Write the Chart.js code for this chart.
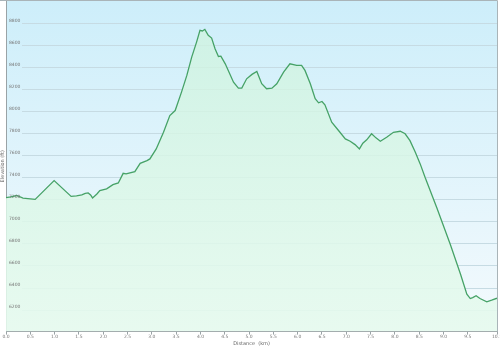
<!DOCTYPE html>
<html>
<head>
<meta charset="utf-8">
<script src="https://cdn.jsdelivr.net/npm/chart.js@4"></script>
<style>
  html, body { margin: 0; padding: 0; background: #fff; }
  #wrap { width: 500px; height: 349px; }
</style>
</head>
<body>
<div id="wrap"><canvas id="profile"></canvas></div>
<script>
const distanceKm = [0.00, 0.10, 0.22, 0.35, 0.60, 0.99, 1.34, 1.45, 1.56, 1.63, 1.69, 1.74, 1.78, 1.87, 1.93,
  2.07, 2.20, 2.31, 2.41, 2.47, 2.65, 2.76, 2.90, 2.96, 3.09, 3.24, 3.37, 3.48, 3.61, 3.72, 3.82, 3.92, 3.99,
  4.04, 4.09, 4.16, 4.23, 4.30, 4.37, 4.42, 4.51, 4.68, 4.78, 4.85, 4.95, 5.06, 5.16, 5.26, 5.36, 5.47, 5.57,
  5.71, 5.84, 5.98, 6.08, 6.15, 6.26, 6.36, 6.43, 6.50, 6.56, 6.70, 6.84, 6.98, 7.08, 7.18, 7.27, 7.34, 7.42,
  7.52, 7.61, 7.70, 7.83, 7.97, 8.11, 8.21, 8.31, 8.42, 8.52, 8.62, 8.86, 9.14, 9.35, 9.48, 9.55, 9.60, 9.67,
  9.75, 9.89, 9.99, 10.10];
const elevationFt = [7215, 7222, 7235, 7212, 7200, 7370, 7227, 7232, 7240, 7255, 7258, 7240, 7213, 7249, 7279,
  7295, 7334, 7349, 7436, 7431, 7452, 7527, 7551, 7567, 7658, 7809, 7961, 8006, 8173, 8325, 8491, 8627, 8734,
  8728, 8743, 8688, 8664, 8567, 8497, 8500, 8430, 8263, 8209, 8209, 8294, 8334, 8361, 8249, 8204, 8209, 8249,
  8355, 8430, 8415, 8415, 8370, 8249, 8113, 8076, 8088, 8058, 7900, 7825, 7749, 7727, 7697, 7658, 7709, 7740,
  7795, 7758, 7727, 7764, 7809, 7818, 7795, 7733, 7627, 7522, 7400, 7127, 6790, 6520, 6340, 6300, 6309, 6325,
  6300, 6270, 6285, 6303];
const xTicks = [0, 0.5, 1, 1.5, 2, 2.5, 3, 3.5, 4, 4.5, 5, 5.5, 6, 6.5, 7, 7.5, 8, 8.5, 9, 9.5, 10.1];
const yTicks = [6200, 6400, 6600, 6800, 7000, 7200, 7400, 7600, 7800, 8000, 8200, 8400, 8600, 8800];

const points = distanceKm.map((d, i) => ({ x: d, y: elevationFt[i] }));
const tickFont = { family: "DejaVu Sans", size: 4.5 };

// panel background + gridlines that start right of the tick labels
const panel = {
  id: "panel",
  beforeDraw(chart) {
    const { ctx, chartArea: a, scales } = chart;
    ctx.save();
    const bg = ctx.createLinearGradient(0, a.top, 0, a.bottom);
    bg.addColorStop(0, "#cdeefa");
    bg.addColorStop(1, "#f4fafd");
    ctx.fillStyle = bg;
    ctx.fillRect(a.left, a.top, a.right - a.left, a.bottom - a.top);
    ctx.strokeStyle = "#c6dbe3";
    ctx.lineWidth = 1;
    for (const t of yTicks) {
      const y = Math.round(scales.y.getPixelForValue(t)) + 0.5;
      ctx.beginPath();
      ctx.moveTo(a.left + 16, y);
      ctx.lineTo(a.right, y);
      ctx.stroke();
    }
    ctx.restore();
  },
  afterDraw(chart) {
    const { ctx, chartArea: a } = chart;
    ctx.save();
    ctx.strokeStyle = "#a9b4b8";
    ctx.lineWidth = 1;
    ctx.beginPath();
    ctx.moveTo(0, 0.5);
    ctx.lineTo(a.right + 0.5, 0.5);
    ctx.lineTo(a.right + 0.5, a.bottom);
    ctx.stroke();
    ctx.restore();
  }
};

new Chart(document.getElementById("profile"), {
  type: "line",
  data: {
    datasets: [{
      data: points,
      borderColor: "#46a267",
      borderWidth: 1.3,
      pointRadius: 0,
      tension: 0,
      fill: "origin",
      backgroundColor: (c) => {
        const a = c.chart.chartArea;
        if (!a) return "rgba(200,240,215,0.6)";
        const g = c.chart.ctx.createLinearGradient(0, a.top, 0, a.bottom);
        g.addColorStop(0, "rgba(205,243,222,0.75)");
        g.addColorStop(1, "rgba(230,250,238,0.9)");
        return g;
      }
    }]
  },
  options: {
    responsive: true,
    maintainAspectRatio: false,
    animation: false,
    layout: { padding: { top: 1, right: 3, left: 0, bottom: 0 } },
    plugins: { legend: { display: false }, tooltip: { enabled: false } },
    scales: {
      x: {
        type: "linear",
        min: 0,
        max: 10.1,
        afterBuildTicks: (s) => { s.ticks = xTicks.map((v) => ({ value: v })); },
        afterFit: (s) => { s.paddingLeft = 0; s.paddingRight = 0; },
        ticks: {
          font: tickFont,
          color: "#777",
          padding: 0,
          maxRotation: 0,
          autoSkip: false,
          callback: (v) => Number(v).toFixed(1)
        },
        grid: { drawOnChartArea: false, drawTicks: true, tickLength: 3, color: "#9aa3a6" },
        border: { display: true, color: "#9aa3a6" },
        title: {
          display: true,
          text: "Distance  (km)",
          color: "#666",
          font: { family: "DejaVu Sans", size: 5 },
          padding: { top: 1, bottom: 2 }
        }
      },
      y: {
        min: 6000,
        max: 9000,
        afterBuildTicks: (s) => { s.ticks = yTicks.map((v) => ({ value: v })); },
        afterFit: (s) => { s.width = 6; s.paddingTop = 0; s.paddingBottom = 0; },
        ticks: {
          z: 1,
          mirror: true,
          padding: 3,
          labelOffset: -2.5,
          font: tickFont,
          color: "#777",
          callback: (v) => String(v)
        },
        grid: { display: false, drawTicks: false },
        border: { display: true, color: "#9aa3a6" },
        title: {
          display: true,
          text: "Elevation (ft)",
          color: "#666",
          font: { family: "DejaVu Sans", size: 5 },
          padding: { top: 0, bottom: 0 }
        }
      }
    }
  },
  plugins: [panel]
});
</script>
</body>
</html>
